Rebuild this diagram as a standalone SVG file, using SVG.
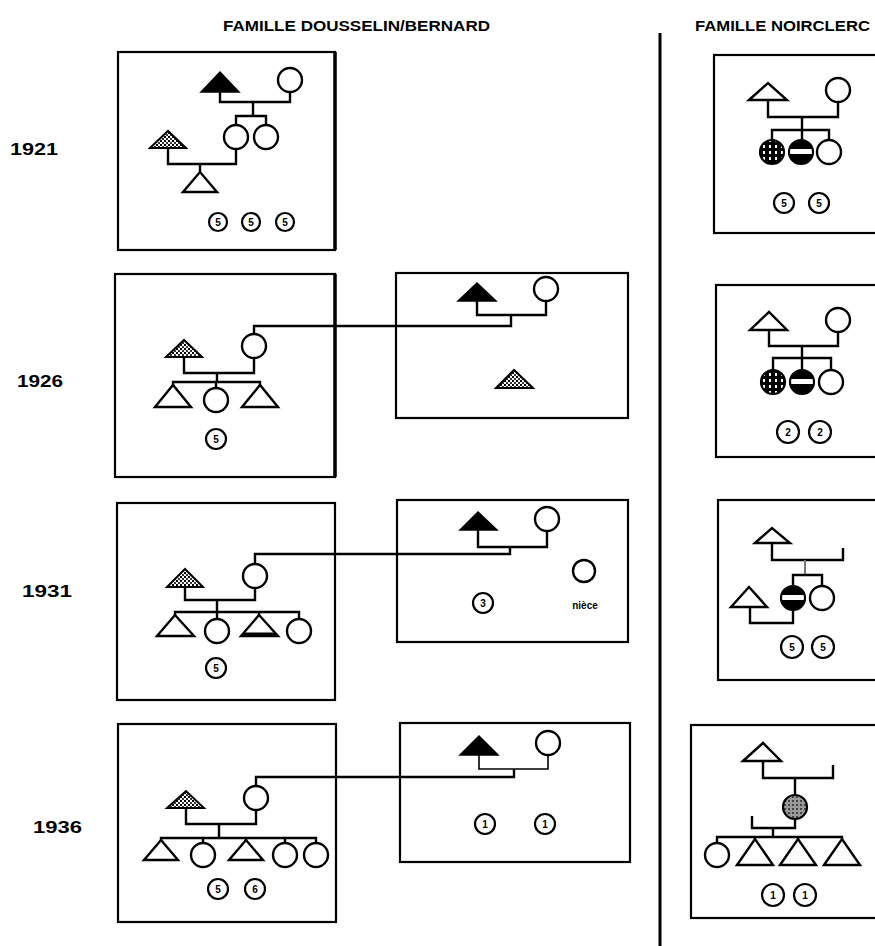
<svg xmlns="http://www.w3.org/2000/svg" width="875" height="946" viewBox="0 0 875 946">
<style>
.box{fill:#fff;stroke:#000;stroke-width:2.2}
.ln{fill:none;stroke:#000;stroke-width:2.4;stroke-linejoin:miter}
.thin{fill:none;stroke:#000;stroke-width:1.6}
.grey{fill:none;stroke:#777;stroke-width:2}
.o{fill:#fff;stroke:#000;stroke-width:2.4}
.f{fill:#000;stroke:#000;stroke-width:1.5}
.h{fill:url(#hatch);stroke:#000;stroke-width:2}
.s{fill:url(#stripe);stroke:#000;stroke-width:2.2}
.p{fill:url(#part);stroke:#000;stroke-width:2.2}
.g{fill:url(#dots);stroke:#000;stroke-width:2.2}
.sc{fill:#fff;stroke:#000;stroke-width:2.2}
.lab{font-family:"Liberation Sans",Arial,sans-serif;font-weight:bold;font-size:10px;text-anchor:middle}
.yr{font-family:"Liberation Sans",Arial,sans-serif;font-weight:bold;font-size:17px}
.hd{font-family:"Liberation Sans",Arial,sans-serif;font-weight:bold;font-size:14px}
</style>
<defs>
<pattern id="hatch" width="4" height="4" patternUnits="userSpaceOnUse">
<rect width="4" height="4" fill="#fff"/>
<rect width="2" height="2" fill="#000"/>
<rect x="2" y="2" width="2" height="2" fill="#333"/>
</pattern>
<pattern id="dots" width="4" height="4" patternUnits="userSpaceOnUse">
<rect width="4" height="4" fill="#999"/>
<rect width="2" height="2" fill="#444"/>
</pattern>
<pattern id="part" width="6" height="6" patternUnits="userSpaceOnUse">
<rect width="6" height="6" fill="#000"/>
<rect x="1" y="1" width="2" height="3" fill="#fff"/>
</pattern>
<linearGradient id="stripe" x1="0" y1="0" x2="0" y2="1">
<stop offset="0" stop-color="#000"/>
<stop offset="0.38" stop-color="#000"/>
<stop offset="0.38" stop-color="#fff"/>
<stop offset="0.58" stop-color="#fff"/>
<stop offset="0.58" stop-color="#000"/>
<stop offset="1" stop-color="#000"/>
</linearGradient>
</defs>
<rect width="875" height="946" fill="#fff"/>

<g id="headers">
<text class="hd" x="223" y="31" textLength="267" lengthAdjust="spacingAndGlyphs">FAMILLE DOUSSELIN/BERNARD</text>
<text class="hd" x="695" y="31" textLength="175" lengthAdjust="spacingAndGlyphs">FAMILLE NOIRCLERC</text>
</g>
<g id="years">
<text class="yr" x="10" y="155" textLength="48" lengthAdjust="spacingAndGlyphs">1921</text>
<text class="yr" x="17" y="387" textLength="46" lengthAdjust="spacingAndGlyphs">1926</text>
<text class="yr" x="22" y="597" textLength="50" lengthAdjust="spacingAndGlyphs">1931</text>
<text class="yr" x="33" y="833" textLength="49" lengthAdjust="spacingAndGlyphs">1936</text>
</g>
<line id="divider" x1="660" y1="33" x2="660" y2="946" stroke="#000" stroke-width="3"/>

<g id="dou-1921">
<rect class="box" x="118" y="52" width="217" height="198"/>
<line x1="335" y1="52" x2="335" y2="250" stroke="#000" stroke-width="3.5"/>
<path class="f" d="M201 92 L220 72 L239 92 Z"/>
<circle class="o" cx="290" cy="80" r="12"/>
<path class="ln" d="M220 92 V102 H290 V92 M253 102 V116 M236 125 V116 H266 V125"/>
<circle class="o" cx="236" cy="137" r="12"/>
<circle class="o" cx="266" cy="137" r="12"/>
<path class="h" d="M150 148 L168 131 L186 148 Z"/>
<path class="ln" d="M168 148 V164 H236 V149 M200 164 V172"/>
<path class="o" d="M183 192 L200 172 L217 192 Z"/>
<circle class="sc" cx="218" cy="222" r="9"/><text class="lab" x="218" y="226">5</text>
<circle class="sc" cx="251" cy="222" r="9"/><text class="lab" x="251" y="226">5</text>
<circle class="sc" cx="285" cy="222" r="9"/><text class="lab" x="285" y="226">5</text>
</g>

<g id="dou-1926">
<rect class="box" x="115" y="274" width="220" height="203"/>
<line x1="335" y1="274" x2="335" y2="477" stroke="#000" stroke-width="3.5"/>
<path class="h" d="M166 357 L184 340 L202 357 Z"/>
<circle class="o" cx="254" cy="346" r="12"/>
<path class="ln" d="M184 357 V373 H254 V358 M217 373 V382 M173 386 V382 H260 V386 M216 382 V388"/>
<path class="o" d="M155 407 L173 385 L191 407 Z"/>
<circle class="o" cx="216" cy="400" r="12"/>
<path class="o" d="M242 407 L260 385 L278 407 Z"/>
<circle class="sc" cx="216" cy="439" r="10"/><text class="lab" x="216" y="443">5</text>
</g>

<g id="bern-1926">
<rect class="box" x="396" y="273" width="232" height="145"/>
<path class="f" d="M458 301 L477 283 L496 301 Z"/>
<circle class="o" cx="546" cy="289" r="12"/>
<path class="ln" d="M477 301 V315 H546 V301"/>
<path class="h" d="M496 388 L514 370 L533 388 Z"/>
</g>

<g id="dou-1931">
<rect class="box" x="117" y="503" width="218" height="197"/>
<path class="h" d="M167 587 L185 569 L203 587 Z"/>
<circle class="o" cx="255" cy="576" r="12"/>
<path class="ln" d="M185 587 V600 H255 V588 M217 600 V612 M175 616 V612 H299 V619 M217 612 V619 M259 612 V616"/>
<path class="o" d="M157 636 L175 615 L194 636 Z"/>
<circle class="o" cx="217" cy="631" r="12"/>
<path class="o" d="M241 636 L259 615 L278 636 Z"/>
<line x1="243" y1="634" x2="276" y2="634" stroke="#000" stroke-width="3"/>
<circle class="o" cx="299" cy="631" r="12"/>
<circle class="sc" cx="216" cy="668" r="10"/><text class="lab" x="216" y="672">5</text>
</g>

<g id="bern-1931">
<rect class="box" x="397" y="500" width="231" height="142"/>
<path class="f" d="M460 530 L478 512 L497 530 Z"/>
<circle class="o" cx="547" cy="519" r="12"/>
<path class="ln" d="M478 530 V547 H547 V531" stroke-width="3"/>
<circle class="sc" cx="483" cy="603" r="10"/><text class="lab" x="483" y="607">3</text>
<circle class="o" cx="584" cy="571" r="11"/>
<text class="lab" x="585" y="609" font-size="9">nièce</text>
</g>

<g id="dou-1936">
<rect class="box" x="118" y="724" width="218" height="198"/>
<path class="h" d="M167 808 L186 791 L204 808 Z"/>
<circle class="o" cx="256" cy="798" r="12"/>
<path class="ln" d="M186 808 V824 H256 V810" stroke-width="3"/>
<path class="ln" d="M219 824 V838 M161 841 V838 H316 V843 M203 838 V843 M246 838 V841 M285 838 V843"/>
<path class="o" d="M144 860 L161 840 L178 860 Z"/>
<circle class="o" cx="203" cy="855" r="12"/>
<path class="o" d="M229 860 L246 840 L263 860 Z"/>
<circle class="o" cx="285" cy="855" r="12"/>
<circle class="o" cx="316" cy="855" r="12"/>
<circle class="sc" cx="218" cy="889" r="10"/><text class="lab" x="218" y="893">5</text>
<circle class="sc" cx="255" cy="889" r="10"/><text class="lab" x="255" y="893">6</text>
</g>

<g id="bern-1936">
<rect class="box" x="400" y="723" width="230" height="139"/>
<path class="f" d="M460 755 L479 736 L498 755 Z"/>
<circle class="o" cx="548" cy="743" r="12"/>
<path class="thin" d="M479 755 V769 H548 V755"/>
<circle class="sc" cx="485" cy="824" r="10"/><text class="lab" x="485" y="828">1</text>
<circle class="sc" cx="545" cy="824" r="10"/><text class="lab" x="545" y="828">1</text>
</g>

<g id="noir-1921">
<rect class="box" x="714" y="55" width="200" height="178"/>
<path class="o" d="M749 100 L768 83 L787 100 Z"/>
<circle class="o" cx="838" cy="90" r="12"/>
<path class="ln" d="M768 100 V117 H838 V102 M802 117 V140 M772 140 V130 H829 V140"/>
<circle class="p" cx="772" cy="152" r="12"/>
<circle class="s" cx="801" cy="152" r="12"/>
<circle class="o" cx="829" cy="152" r="12"/>
<circle class="sc" cx="784" cy="203" r="10"/><text class="lab" x="784" y="207">5</text>
<circle class="sc" cx="819" cy="203" r="10"/><text class="lab" x="819" y="207">5</text>
</g>

<g id="noir-1926">
<rect class="box" x="716" y="285" width="200" height="172"/>
<path class="o" d="M750 330 L769 312 L787 330 Z"/>
<circle class="o" cx="838" cy="320" r="12"/>
<path class="ln" d="M769 330 V346 H838 V332 M802 346 V370 M773 370 V358 H831 V370"/>
<circle class="p" cx="773" cy="382" r="12"/>
<circle class="s" cx="802" cy="382" r="12"/>
<circle class="o" cx="831" cy="382" r="12"/>
<circle class="sc" cx="788" cy="432" r="11"/><text class="lab" x="788" y="436">2</text>
<circle class="sc" cx="820" cy="432" r="11"/><text class="lab" x="820" y="436">2</text>
</g>

<g id="noir-1931">
<rect class="box" x="718" y="500" width="200" height="180"/>
<path class="o" d="M755 543 L772 528 L790 543 Z"/>
<path class="ln" d="M772 543 V560 H843 V548"/>
<path class="grey" d="M805 560 V575"/>
<path class="ln" d="M793 586 V575 H822 V586"/>
<circle class="s" cx="793" cy="598" r="12"/>
<circle class="o" cx="822" cy="598" r="12"/>
<path class="o" d="M731 607 L749 587 L767 607 Z"/>
<path class="ln" d="M750 607 V623 H793 V610"/>
<circle class="sc" cx="792" cy="647" r="11"/><text class="lab" x="792" y="651">5</text>
<circle class="sc" cx="823" cy="647" r="11"/><text class="lab" x="823" y="651">5</text>
</g>

<g id="noir-1936">
<rect class="box" x="691" y="725" width="200" height="193"/>
<path class="o" d="M743 761 L763 743 L781 761 Z"/>
<path class="ln" d="M763 761 V778 H833 V765 M795 778 V795"/>
<circle class="g" cx="795" cy="807" r="12"/>
<path class="ln" d="M795 819 V828 H752 V816 M773 828 V837 M717 843 V837 H842 V840 M755 837 V840 M798 837 V840"/>
<circle class="o" cx="717" cy="855" r="12"/>
<path class="o" d="M737 865 L755 839 L773 865 Z"/>
<path class="o" d="M780 865 L798 839 L816 865 Z"/>
<path class="o" d="M824 865 L842 839 L860 865 Z"/>
<circle class="sc" cx="773" cy="895" r="11"/><text class="lab" x="773" y="899">1</text>
<circle class="sc" cx="805" cy="895" r="11"/><text class="lab" x="805" y="899">1</text>
</g>

<g id="connectors">
<path class="ln" d="M254 334 V326 H511 V315" stroke-width="1.8"/>
<path class="ln" d="M255 564 V554 H510 V547" stroke-width="1.8" stroke="#444"/>
<path class="ln" d="M256 786 V777 H514 V769" stroke-width="2.8"/>
</g>
</svg>
